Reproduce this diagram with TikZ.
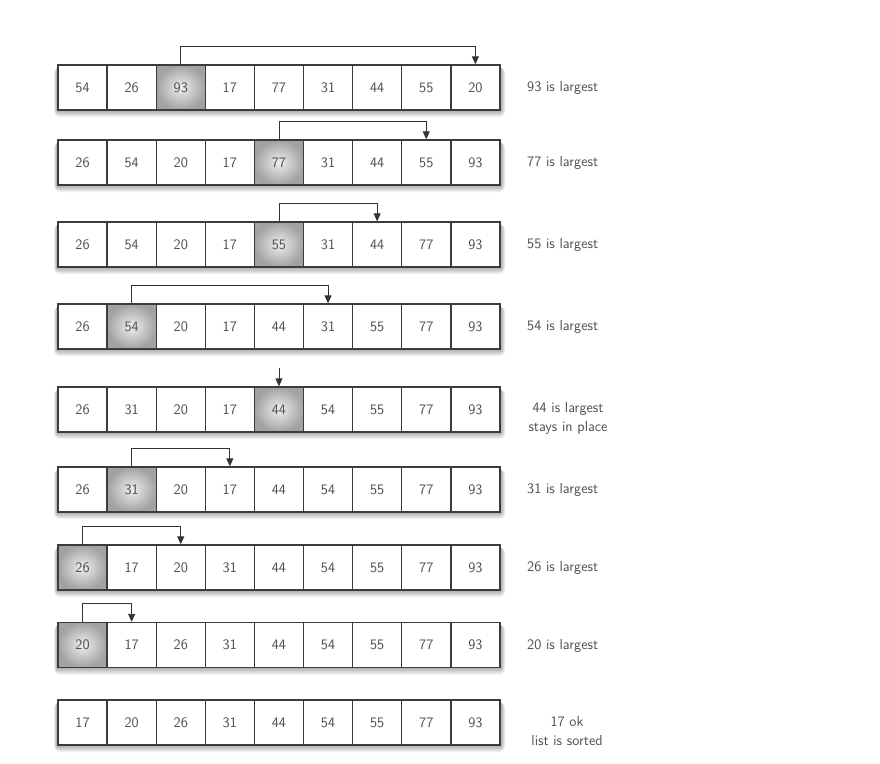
\documentclass[tikz,border=0pt]{standalone}
\usepackage{fontspec}
\usetikzlibrary{arrows.meta}
\definecolor{boxline}{HTML}{3C3C3C}
\definecolor{txt}{HTML}{4F4F4F}
\definecolor{hlin}{HTML}{EEEEEE}
\definecolor{hlout}{HTML}{A2A2A2}
\definecolor{arrowc}{HTML}{333333}
\begin{document}
\begin{tikzpicture}[x=1pt,y=-1pt,
  font=\sffamily\fontsize{14.5}{19}\selectfont,
  cell/.style={draw=boxline, line width=1.4pt, minimum width=49.1pt, minimum height=45pt, inner sep=0pt, fill=white, text=txt},
  hl/.style={cell, shading=radial, inner color=hlin, outer color=hlout},
  lbl/.style={text=txt, anchor=west, inner sep=0pt},
  lbltwo/.style={text=txt, align=center, inner sep=0pt},
  swaparrow/.style={draw=arrowc, line width=0.9pt, -{Triangle[length=8pt,width=7pt]}}]
\useasboundingbox[fill=white] (0,0) rectangle (880,763);
\foreach \r/\y/\vals/\h in {
  1/87.5/{54,26,93,17,77,31,44,55,20}/3,
  2/162.5/{26,54,20,17,77,31,44,55,93}/5,
  3/244.5/{26,54,20,17,55,31,44,77,93}/5,
  4/326.5/{26,54,20,17,44,31,55,77,93}/2,
  5/409.5/{26,31,20,17,44,54,55,77,93}/5,
  6/489.5/{26,31,20,17,44,54,55,77,93}/2,
  7/567.5/{26,17,20,31,44,54,55,77,93}/1,
  8/645/{20,17,26,31,44,54,55,77,93}/1,
  9/722.5/{17,20,26,31,44,54,55,77,93}/0}{
  \foreach \k in {1,...,6}{
    \fill[black, opacity=0.055, rounded corners=\k pt] (57-\k*0.5, \y-20) rectangle (501+\k*0.7, \y+23+\k*1.1);
  }
  \foreach \v [count=\j] in \vals {
    \ifnum\j=\h \def\st{hl}\else\def\st{cell}\fi
    \node[\st] (r\r c\j) at (58+24.55+49.1*\j-49.1, \y) {\v};
  }
}
% arrows
\draw[swaparrow] (r1c3.north) -- ++(0,-18) -| (r1c9.north);
\draw[swaparrow] (r2c5.north) -- ++(0,-18) -| (r2c8.north);
\draw[swaparrow] (r3c5.north) -- ++(0,-18) -| (r3c7.north);
\draw[swaparrow] (r4c2.north) -- ++(0,-18) -| (r4c6.north);
\coordinate (a5) at ([yshift=18pt]r5c5.north);
\draw[swaparrow] (a5) -- (r5c5.north);
\draw[swaparrow] (r6c2.north) -- ++(0,-18) -| (r6c4.north);
\draw[swaparrow] (r7c1.north) -- ++(0,-18) -| (r7c3.north);
\draw[swaparrow] (r8c1.north) -- ++(0,-18) -| (r8c2.north);
% labels
\node[lbl] (l1) at (527,88) {93 is largest};
\node[lbl] (l2) at (527,163) {77 is largest};
\node[lbl] (l3) at (527,245) {55 is largest};
\node[lbl] (l4) at (527,327) {54 is largest};
\node[lbltwo] (l5) at (568,418) {44 is largest\\stays in place};
\node[lbl] (l6) at (527,490) {31 is largest};
\node[lbl] (l7) at (527,568) {26 is largest};
\node[lbl] (l8) at (527,645.5) {20 is largest};
\node[lbltwo] (l9) at (567,731) {17 ok\\list is sorted};
\end{tikzpicture}
\end{document}
